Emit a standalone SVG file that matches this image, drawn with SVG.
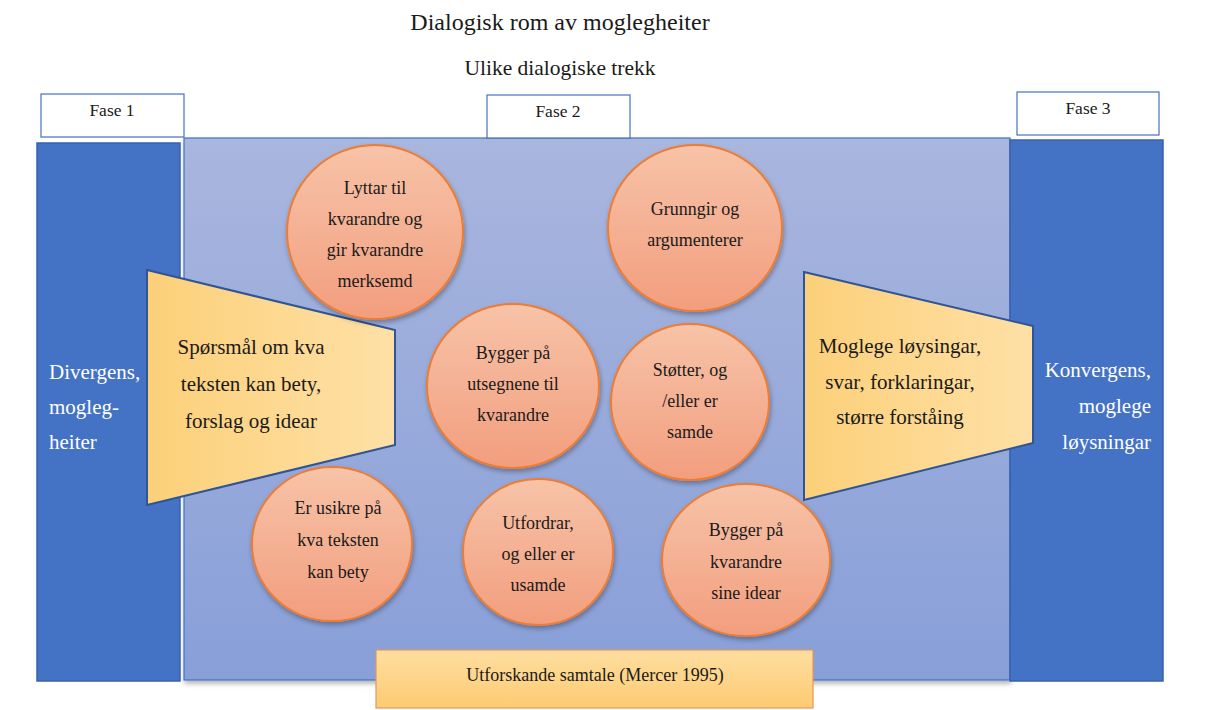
<svg xmlns="http://www.w3.org/2000/svg" width="1215" height="710" viewBox="0 0 1215 710">
<defs>
<linearGradient id="gMain" x1="0" y1="0" x2="0" y2="1"><stop offset="0" stop-color="#a9b6de"/><stop offset="1" stop-color="#889fd8"/></linearGradient>
<linearGradient id="gCircle" x1="0" y1="0" x2="0" y2="1"><stop offset="0" stop-color="#f7c3a8"/><stop offset="1" stop-color="#f29e7e"/></linearGradient>
<linearGradient id="gTrap" x1="0" y1="0" x2="1" y2="0"><stop offset="0" stop-color="#fcd079"/><stop offset="1" stop-color="#fee0a6"/></linearGradient>
<linearGradient id="gBottom" x1="0" y1="0" x2="0" y2="1"><stop offset="0" stop-color="#fedea0"/><stop offset="1" stop-color="#fdcb72"/></linearGradient>
<filter id="sh" x="-20%" y="-20%" width="140%" height="140%"><feDropShadow dx="1" dy="3" stdDeviation="2.5" flood-color="#000" flood-opacity="0.3"/></filter>
</defs>
<style>
text{font-family:'Liberation Serif','DejaVu Serif','Times New Roman',serif}
.t{fill:#1a1a1a;text-anchor:middle}
.w{fill:#ffffff}
.circ{fill:url(#gCircle);stroke:#ed7d31;stroke-width:2;filter:url(#sh)}
.trap{fill:url(#gTrap);stroke:#2f5597;stroke-width:2}
.fase{fill:#ffffff;stroke:#4472c4;stroke-width:1.2}
.dark{fill:#4472c4;stroke:#3a62ab;stroke-width:1.5}
.c16{font-size:18px}
.c19{font-size:21px}
</style>
<g id="title">
<text class="t" x="560" y="30" font-size="24">Dialogisk rom av moglegheiter</text>
<text class="t" x="560" y="75" font-size="21.5">Ulike dialogiske trekk</text>
</g>
<g id="main"><rect x="184" y="138" width="826" height="542" fill="url(#gMain)" stroke="#4472c4" stroke-width="1.2" filter="url(#sh)"/></g>
<g id="fase1"><rect class="fase" x="41" y="94" width="143" height="43"/><text class="t" x="112" y="116" font-size="17.5">Fase 1</text></g>
<g id="fase2"><rect class="fase" x="487" y="95" width="143" height="43"/><text class="t" x="558" y="117" font-size="17.5">Fase 2</text></g>
<g id="fase3"><rect class="fase" x="1017" y="92" width="142" height="43"/><text class="t" x="1088" y="114" font-size="17.5">Fase 3</text></g>
<g id="divergens"><rect class="dark" x="37" y="143" width="143" height="538"/>
<text class="w c19" x="49" y="379">Divergens,</text><text class="w c19" x="49" y="414">mogleg-</text><text class="w c19" x="49" y="449">heiter</text></g>
<g id="konvergens"><rect class="dark" x="1010" y="140" width="153" height="541"/>
<text class="w c19" x="1151" y="377" text-anchor="end" font-size="21.5">Konvergens,</text><text class="w c19" x="1151" y="413" text-anchor="end" font-size="21.5">moglege</text><text class="w c19" x="1151" y="449" text-anchor="end" font-size="21.5">løysningar</text></g>
<g id="sporsmal"><polygon class="trap" points="147,270 395,330 395,445 147,505"/>
<text class="t c19" x="251" y="354">Spørsmål om kva</text><text class="t c19" x="251" y="391">teksten kan bety,</text><text class="t c19" x="251" y="428">forslag og idear</text></g>
<g id="loysingar"><polygon class="trap" points="804,272 1033,326 1033,443 804,500"/>
<text class="t c19" x="900" y="353">Moglege løysingar,</text><text class="t c19" x="900" y="389">svar, forklaringar,</text><text class="t c19" x="900" y="424">større forståing</text></g>
<g id="lyttar"><ellipse class="circ" cx="375" cy="232" rx="88" ry="87"/>
<text class="t c16" x="375" y="194">Lyttar til</text><text class="t c16" x="375" y="225">kvarandre og</text><text class="t c16" x="375" y="256">gir kvarandre</text><text class="t c16" x="375" y="287">merksemd</text></g>
<g id="grunngir"><ellipse class="circ" cx="695" cy="228" rx="87" ry="83"/>
<text class="t c16" x="695" y="215">Grunngir og</text><text class="t c16" x="695" y="246">argumenterer</text></g>
<g id="utsegnene"><ellipse class="circ" cx="513" cy="386" rx="86" ry="82"/>
<text class="t c16" x="513" y="359">Bygger på</text><text class="t c16" x="513" y="390">utsegnene til</text><text class="t c16" x="513" y="421">kvarandre</text></g>
<g id="stotter"><ellipse class="circ" cx="690" cy="402" rx="79" ry="78"/>
<text class="t c16" x="690" y="376">Støtter, og</text><text class="t c16" x="690" y="407">/eller  er</text><text class="t c16" x="690" y="438">samde</text></g>
<g id="usikre"><ellipse class="circ" cx="332" cy="544" rx="80" ry="77"/>
<text class="t c16" x="338" y="514">Er usikre på</text><text class="t c16" x="338" y="546">kva teksten</text><text class="t c16" x="338" y="578">kan bety</text></g>
<g id="utfordrar"><ellipse class="circ" cx="538" cy="552" rx="75" ry="73"/>
<text class="t c16" x="538" y="529">Utfordrar,</text><text class="t c16" x="538" y="560">og eller er</text><text class="t c16" x="538" y="591">usamde</text></g>
<g id="idear"><ellipse class="circ" cx="746" cy="560" rx="84" ry="76"/>
<text class="t c16" x="746" y="536">Bygger på</text><text class="t c16" x="746" y="568">kvarandre</text><text class="t c16" x="746" y="599">sine idear</text></g>
<g id="mercer"><rect x="376" y="650" width="437" height="58" fill="url(#gBottom)" stroke="#e8955a" stroke-width="1.2"/>
<text class="t" x="595" y="681" font-size="18">Utforskande samtale (Mercer 1995)</text></g>
<g id="connectors"></g>
</svg>
